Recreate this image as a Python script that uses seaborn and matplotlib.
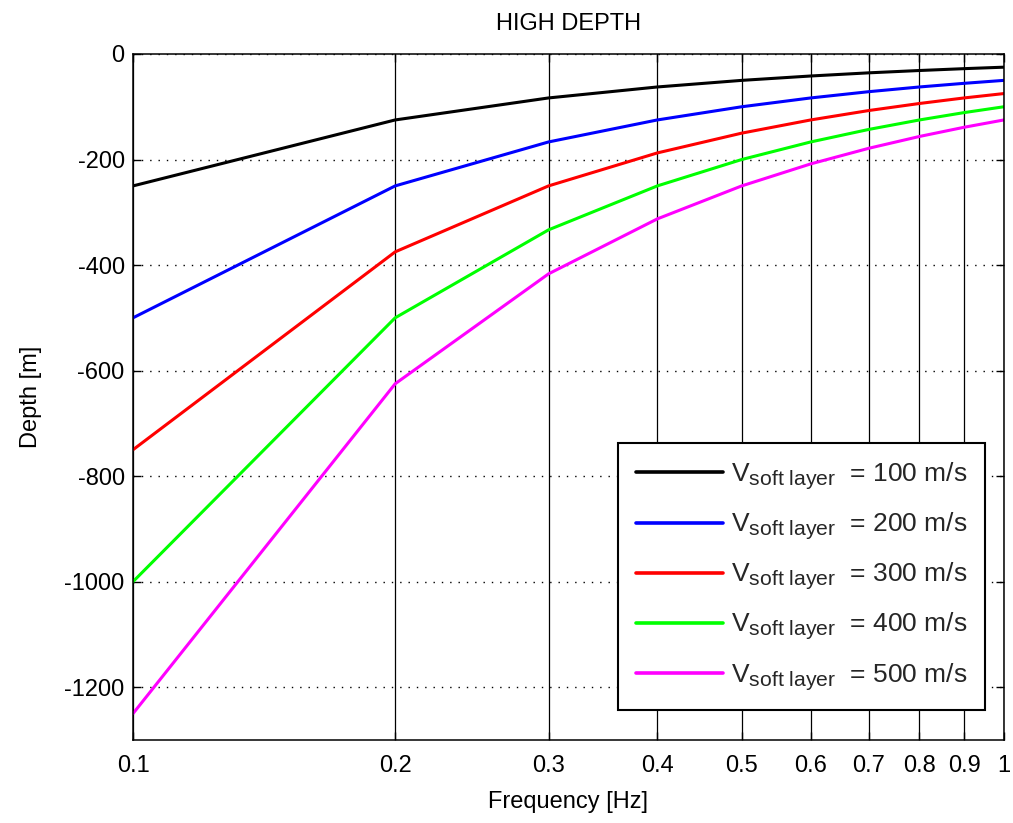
import matplotlib
matplotlib.use("Agg")
import matplotlib.pyplot as plt
import matplotlib._mathtext as _mt
import seaborn as sns
import pandas as pd

# Frequencies [Hz] and resulting depths [m] for each soft-layer velocity
frequency = [0.1, 0.2, 0.3, 0.4, 0.5, 0.6, 0.7, 0.8, 0.9, 1.0]
velocities = [100, 200, 300, 400, 500]
depth_100 = [-250.0, -125.0, -83.3, -62.5, -50.0, -41.7, -35.7, -31.3, -27.8, -25.0]
depth_200 = [-500.0, -250.0, -166.7, -125.0, -100.0, -83.3, -71.4, -62.5, -55.6, -50.0]
depth_300 = [-750.0, -375.0, -250.0, -187.5, -150.0, -125.0, -107.1, -93.8, -83.3, -75.0]
depth_400 = [-1000.0, -500.0, -333.3, -250.0, -200.0, -166.7, -142.9, -125.0, -111.1, -100.0]
depth_500 = [-1250.0, -625.0, -416.7, -312.5, -250.0, -208.3, -178.6, -156.3, -138.9, -125.0]
line_colors = ["#000000", "#0000ff", "#ff0000", "#00ff00", "#ff00ff"]
x_tick_labels = ["0.1", "0.2", "0.3", "0.4", "0.5", "0.6", "0.7", "0.8", "0.9", "1"]
y_ticks = [-1200, -1000, -800, -600, -400, -200, 0]

sns.set_style("white")
plt.rcParams["font.family"] = ["Liberation Sans", "DejaVu Sans"]
plt.rcParams["mathtext.fontset"] = "custom"
plt.rcParams["mathtext.rm"] = "Liberation Sans"
plt.rcParams["mathtext.it"] = "Liberation Sans"
# slightly larger subscripts in the legend labels
_mt.SHRINK_FACTOR = 0.8

labels = [r"$\mathrm{V}_{\mathrm{soft\ layer}}$  = %d m/s" % v for v in velocities]
series = [depth_100, depth_200, depth_300, depth_400, depth_500]
rows = []
for lab, dep in zip(labels, series):
    for f, d in zip(frequency, dep):
        rows.append({"Frequency": f, "Depth": d, "Velocity": lab})
df = pd.DataFrame(rows)

fig = plt.figure(figsize=(10.13, 8.23), dpi=100)
ax = fig.add_axes([0.1313, 0.1009, 0.8597, 0.8335])

sns.lineplot(data=df, x="Frequency", y="Depth", hue="Velocity",
             palette=dict(zip(labels, line_colors)), linewidth=2.2,
             ax=ax, sort=False)

ax.set_xscale("log")
ax.set_xlim(0.1, 1.0)
ax.set_ylim(-1300, 0)
ax.set_xticks(frequency)
ax.set_xticklabels(x_tick_labels)
ax.xaxis.set_minor_locator(matplotlib.ticker.NullLocator())
ax.set_yticks(y_ticks)
ax.set_yticklabels([str(t) for t in y_ticks])

ax.xaxis.grid(True, linestyle="-", color="black", linewidth=0.9)
ax.yaxis.grid(True, linestyle=(0, (1, 5)), color="black", linewidth=1.0)
ax.set_axisbelow(True)

for sp in ax.spines.values():
    sp.set_color("black")
    sp.set_linewidth(1.1)

ax.tick_params(axis="both", which="major", direction="in", length=6,
               width=1.0, color="black", labelsize=17, labelcolor="black",
               top=True, right=True, bottom=True, left=True)
ax.tick_params(axis="x", pad=11)
ax.tick_params(axis="y", pad=6)

ax.set_xlabel("Frequency [Hz]", fontsize=17, color="black", labelpad=10)
ax.set_ylabel("Depth [m]", fontsize=17, color="black", labelpad=16)
ax.set_title("HIGH DEPTH", fontsize=17, color="black", pad=17)

leg = ax.legend(loc="lower right", bbox_to_anchor=(0.978, 0.0437),
                borderaxespad=0, fontsize=19, frameon=True, fancybox=False,
                framealpha=1, handlelength=3.3, handletextpad=0.3,
                labelspacing=0.72, borderpad=0.66, edgecolor="black")
leg.get_frame().set_linewidth(1.5)
for h in leg.get_lines():
    h.set_linewidth(2.6)

fig.savefig("out.png", dpi=100)
